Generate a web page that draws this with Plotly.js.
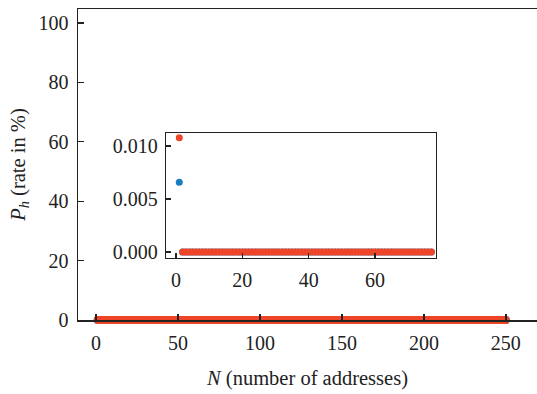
<!DOCTYPE html>
<html>
<head>
<meta charset="utf-8">
<script src="https://cdn.plot.ly/plotly-3.0.1.min.js"></script>
<style>html,body{margin:0;padding:0;background:#fff;}#chart{width:537px;height:394px;}</style>
</head>
<body>
<div id="chart"></div>
<script>
// Main chart: N from 1 to 250, hit rate (in %) essentially zero
const mainN = [];
for (let n = 1; n <= 250; n++) mainN.push(n);
const mainRed = mainN.map(() => 0);
const mainBlue = mainN.map(() => 0);

// Inset: N from 1 to 77
const insetN = [];
for (let n = 1; n <= 77; n++) insetN.push(n);
const insetRed = insetN.map(n => (n === 1 ? 0.0108 : 0));
const insetBlue = insetN.map(n => (n === 1 ? 0.0066 : 0));

const mainYTicks = [0, 20, 40, 60, 80, 100];
const mainXTicks = [0, 50, 100, 150, 200, 250];
const insetYTicks = [0, 0.005, 0.010];
const insetYLabels = ['0.000', '0.005', '0.010'];
const insetXTicks = [0, 20, 40, 60];

const red = '#ee4528';
const blue = '#1b7dc1';
const ink = '#222222';
const font = 'Liberation Serif, DejaVu Serif, serif';

const traces = [
  {x: mainN, y: mainBlue, mode: 'markers', type: 'scatter', marker: {color: blue, size: 8}, cliponaxis: false, xaxis: 'x', yaxis: 'y', showlegend: false},
  {x: mainN, y: mainRed, mode: 'markers', type: 'scatter', marker: {color: red, size: 8}, cliponaxis: false, xaxis: 'x', yaxis: 'y', showlegend: false},
  {x: insetN, y: insetBlue, mode: 'markers', type: 'scatter', marker: {color: blue, size: 7}, cliponaxis: false, xaxis: 'x2', yaxis: 'y2', showlegend: false},
  {x: insetN, y: insetRed, mode: 'markers', type: 'scatter', marker: {color: red, size: 7}, cliponaxis: false, xaxis: 'x2', yaxis: 'y2', showlegend: false}
];

const layout = {
  width: 537, height: 394,
  margin: {l: 78, r: 0, t: 9, b: 74},
  paper_bgcolor: '#fff', plot_bgcolor: '#fff',
  font: {family: font, size: 20, color: ink},
  showlegend: false,
  xaxis: {
    domain: [0, 1], range: [-11, 269],
    tickvals: mainXTicks, ticks: 'inside', ticklen: 6, tickwidth: 1.3, tickcolor: ink,
    showline: true, linecolor: ink, linewidth: 1.5, mirror: true,
    showgrid: false, zeroline: false, ticklabelstandoff: 4,
    title: {text: '<i>N</i> (number of addresses)', font: {size: 20.5}, standoff: 18}
  },
  yaxis: {
    domain: [0, 1], range: [0, 104.7],
    tickvals: mainYTicks, ticks: 'inside', ticklen: 6, tickwidth: 1.3, tickcolor: ink,
    showline: true, linecolor: ink, linewidth: 1.5, mirror: false,
    showgrid: false, zeroline: false, ticklabelstandoff: 4,
    title: {text: '<i>P</i><sub><i>h</i></sub> (rate in %)', font: {size: 20.5}, standoff: 7}
  },
  xaxis2: {
    domain: [0.1917, 0.78], anchor: 'y2', range: [-3.0, 78.4],
    tickvals: insetXTicks, ticks: 'inside', ticklen: 5, tickwidth: 1.3, tickcolor: ink,
    showline: true, linecolor: ink, linewidth: 1.3, mirror: true,
    showgrid: false, zeroline: false, ticklabelstandoff: 4
  },
  yaxis2: {
    domain: [0.199, 0.601], anchor: 'x2', range: [-0.00057, 0.01123],
    tickvals: insetYTicks, ticktext: insetYLabels, ticks: 'inside', ticklen: 5, tickwidth: 1.3, tickcolor: ink,
    showline: true, linecolor: ink, linewidth: 1.3, mirror: true,
    showgrid: false, zeroline: false, ticklabelstandoff: 3
  }
};

Plotly.newPlot('chart', traces, layout, {staticPlot: true, displayModeBar: false});
</script>
</body>
</html>
